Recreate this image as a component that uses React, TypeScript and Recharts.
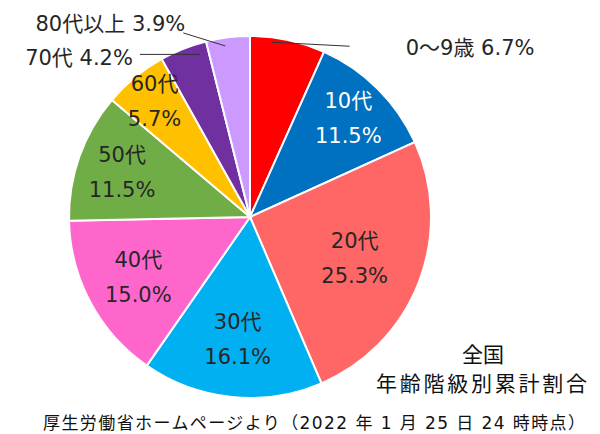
import React from 'react';
import { PieChart, Pie, Cell } from 'recharts';

document.body.style.margin = '0';

const categories = ['0～9歳', '10代', '20代', '30代', '40代', '50代', '60代', '70代', '80代以上'];
const shares = [6.7, 11.5, 25.3, 16.1, 15.0, 11.5, 5.7, 4.2, 3.9];
const colors = ['#FF0000', '#0070C0', '#FF6666', '#00B0F0', '#FF66CC', '#70AD47', '#FFC000', '#7030A0', '#CC99FF'];
const labelColors = ['#262626', '#FFFFFF', '#262626', '#262626', '#262626', '#262626', '#262626', '#262626', '#262626'];
// radius factor for the inside labels
const insideRadius = [0, 0.77, 0.62, 0.68, 0.7, 0.75, 0.83, 0, 0];

const data = categories.map((name, i) => ({ name, value: shares[i] }));

const FONT = '"DejaVu Sans", "Noto Sans CJK JP", sans-serif';
const RAD = Math.PI / 180;
const LABEL_SIZE = 21;
const total = shares.reduce((a, b) => a + b, 0);

// slice middle, degrees clockwise from 12 o'clock
const midClock = (i: number) => {
  const before = shares.slice(0, i).reduce((a, b) => a + b, 0);
  return ((before + shares[i] / 2) / total) * 360;
};

const renderLabel = (props: any) => {
  const { cx, cy, midAngle, outerRadius, index } = props;
  const name = categories[index];
  const pct = shares[index].toFixed(1) + '%';
  const polar = (r: number, a: number) => ({
    x: cx + r * Math.cos(-a * RAD),
    y: cy + r * Math.sin(-a * RAD),
  });
  const clock = (r: number, deg: number) => ({
    x: cx + r * Math.sin(deg * RAD),
    y: cy - r * Math.cos(deg * RAD),
  });

  if (index === 0) {
    const s = clock(outerRadius * 0.973, midClock(index) - 5);
    const e = { x: s.x + 78, y: s.y + 4 };
    return (
      <g>
        <line x1={s.x} y1={s.y} x2={e.x} y2={e.y} stroke="#333" strokeWidth={1} />
        <text x={e.x + 56} y={e.y + 9} fill="#262626" fontSize={LABEL_SIZE} fontFamily={FONT}>
          {name} {pct}
        </text>
      </g>
    );
  }
  if (index === 7) {
    const s = clock(outerRadius * 0.94, midClock(index) + 4.5);
    const e = { x: s.x - 60, y: s.y };
    return (
      <g>
        <line x1={s.x} y1={s.y} x2={e.x} y2={e.y} stroke="#333" strokeWidth={1} />
        <text x={e.x - 7} y={e.y + 11} textAnchor="end" fill="#262626" fontSize={LABEL_SIZE} fontFamily={FONT}>
          {name} {pct}
        </text>
      </g>
    );
  }
  if (index === 8) {
    const s = clock(outerRadius * 0.955, midClock(index) - 1.2);
    const e = { x: s.x - 42, y: s.y - 13 };
    return (
      <g>
        <line x1={s.x} y1={s.y} x2={e.x} y2={e.y} stroke="#333" strokeWidth={1} />
        <text x={e.x + 2} y={e.y - 2} textAnchor="end" fill="#262626" fontSize={LABEL_SIZE} fontFamily={FONT}>
          {name} {pct}
        </text>
      </g>
    );
  }
  const p = polar(outerRadius * insideRadius[index], midAngle);
  return (
    <text x={p.x} y={p.y} textAnchor="middle" fill={labelColors[index]} fontSize={LABEL_SIZE} fontFamily={FONT}>
      <tspan x={p.x} dy={-10}>{name}</tspan>
      <tspan x={p.x} dy={35}>{pct}</tspan>
    </text>
  );
};

export default function App() {
  return (
    <div style={{ position: 'relative', width: 600, height: 434, background: '#fff' }}>
      <PieChart width={600} height={434} margin={{ top: 0, right: 0, bottom: 0, left: 0 }}>
        <Pie
          data={data}
          dataKey="value"
          nameKey="name"
          cx={250}
          cy={217}
          outerRadius={181}
          startAngle={90}
          endAngle={-270}
          stroke="#FFFFFF"
          strokeWidth={2}
          label={renderLabel}
          labelLine={false}
          isAnimationActive={false}
        >
          {data.map((d, i) => (
            <Cell key={d.name} fill={colors[i]} />
          ))}
        </Pie>
      </PieChart>
      <svg width={600} height={434} style={{ position: 'absolute', left: 0, top: 0, pointerEvents: 'none' }}>
        <text x={483} y={362} textAnchor="middle" fontSize={21} fill="#111" fontFamily={FONT}>
          全国
        </text>
        <text x={376} y={391} fontSize={21} fill="#111" fontFamily={FONT} textLength={211} lengthAdjust="spacing">
          年齢階級別累計割合
        </text>
        <text x={43} y={429} fontSize={17} fill="#111" fontFamily={FONT} textLength={542} lengthAdjust="spacing">
          厚生労働省ホームページより（2022 年 1 月 25 日 24 時時点）
        </text>
      </svg>
    </div>
  );
}
